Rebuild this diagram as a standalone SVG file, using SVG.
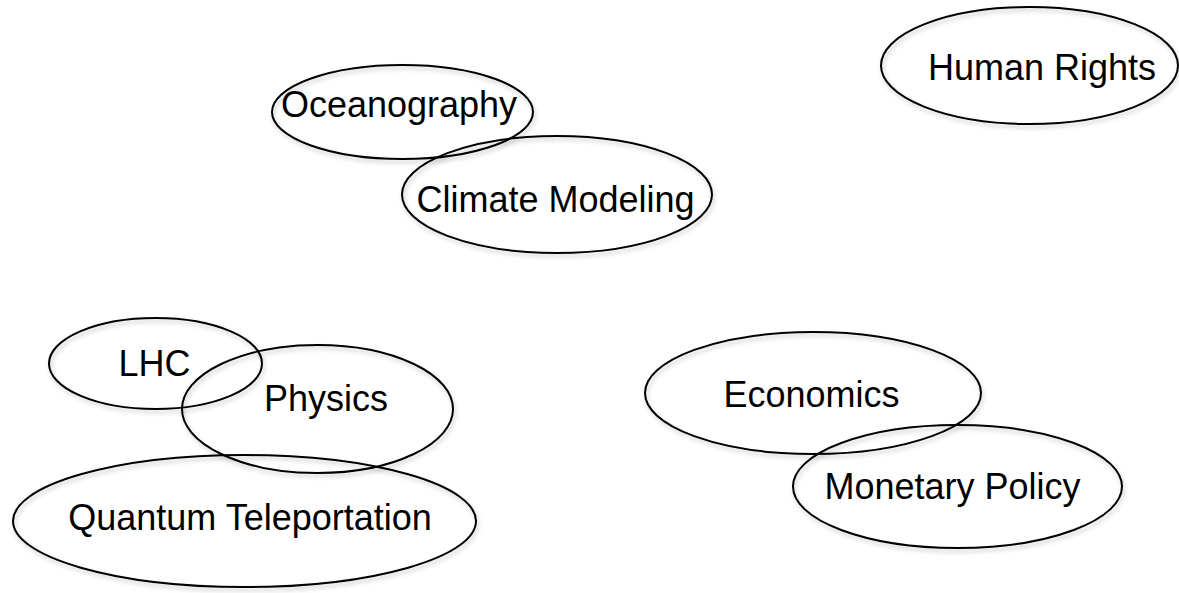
<svg xmlns="http://www.w3.org/2000/svg" width="1179" height="593" viewBox="0 0 1179 593">
  <style>
    .node ellipse { fill: none; stroke: #000; stroke-width: 2; filter: url(#shadow); }
    .node text { font-family: "Liberation Sans", Arial, sans-serif; font-size: 36px; fill: #000; text-anchor: middle; }
  </style>
  <defs>
    <filter id="shadow" x="-10%" y="-10%" width="125%" height="130%">
      <feDropShadow dx="1.5" dy="3" stdDeviation="2" flood-color="#000" flood-opacity="0.22"/>
    </filter>
  </defs>
  <rect width="1179" height="593" fill="#fff"/>
  <g id="connectors"></g>
  <g id="human-rights" class="node">
    <ellipse cx="1029.5" cy="65.5" rx="148.5" ry="58.5"/>
    <text x="1042" y="80">Human Rights</text>
  </g>
  <g id="oceanography" class="node">
    <ellipse cx="402.5" cy="112" rx="130.5" ry="47"/>
    <text x="399" y="117">Oceanography</text>
  </g>
  <g id="climate-modeling" class="node">
    <ellipse cx="557" cy="194.5" rx="155" ry="58.5"/>
    <text x="555.5" y="212">Climate Modeling</text>
  </g>
  <g id="lhc" class="node">
    <ellipse cx="155.5" cy="363.5" rx="106.5" ry="45.5"/>
    <text x="154.5" y="376">LHC</text>
  </g>
  <g id="physics" class="node">
    <ellipse cx="317.5" cy="409" rx="135.5" ry="64"/>
    <text x="326" y="411">Physics</text>
  </g>
  <g id="quantum-teleportation" class="node">
    <ellipse cx="244.5" cy="521" rx="231.5" ry="66"/>
    <text x="250" y="530">Quantum Teleportation</text>
  </g>
  <g id="economics" class="node">
    <ellipse cx="813" cy="393" rx="168" ry="61"/>
    <text x="811.5" y="407">Economics</text>
  </g>
  <g id="monetary-policy" class="node">
    <ellipse cx="957.5" cy="486.5" rx="164.5" ry="61.5"/>
    <text x="952.5" y="499">Monetary Policy</text>
  </g>
</svg>
